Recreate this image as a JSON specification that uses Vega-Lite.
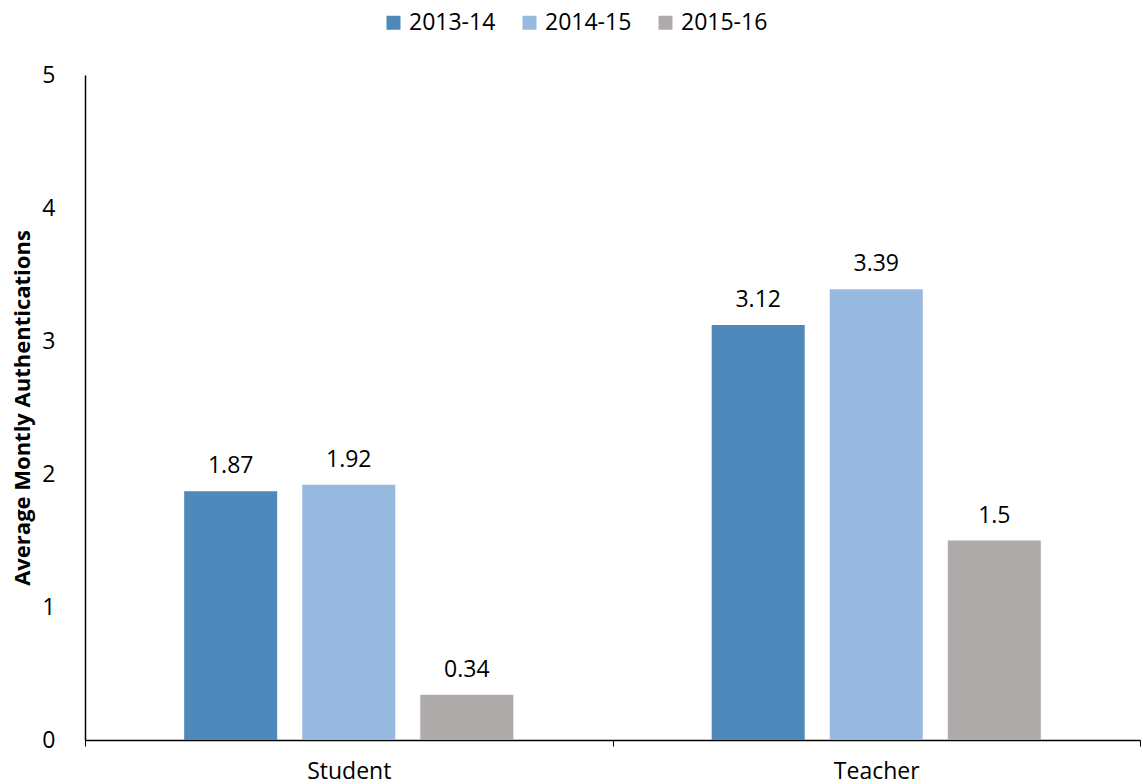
{
  "$schema": "https://vega.github.io/schema/vega-lite/v6.json",
  "autosize": "none",
  "width": 1055,
  "height": 665,
  "padding": {"left": 85, "top": 75, "right": 3, "bottom": 44},
  "background": "white",
  "config": {
    "view": {"stroke": null},
    "font": "Open Sans",
    "axis": {"labelFont": "Open Sans", "titleFont": "Open Sans", "labelColor": "#000000", "titleColor": "#000000", "grid": false}
  },
  "data": {
    "values": [
      {"role": "Student", "year": "2013-14", "value": 1.87},
      {"role": "Student", "year": "2014-15", "value": 1.92},
      {"role": "Student", "year": "2015-16", "value": 0.34},
      {"role": "Teacher", "year": "2013-14", "value": 3.12},
      {"role": "Teacher", "year": "2014-15", "value": 3.39},
      {"role": "Teacher", "year": "2015-16", "value": 1.5}
    ]
  },
  "encoding": {
    "x": {
      "field": "role", "type": "nominal",
      "scale": {"paddingInner": 0, "paddingOuter": 0},
      "axis": {
        "title": null, "labelAngle": 0, "labelFontSize": 23, "labelPadding": 14,
        "domainColor": "#000000", "domainWidth": 1.5, "tickColor": "#000000",
        "tickBand": "extent", "tickSize": 6, "tickWidth": 1
      }
    },
    "xOffset": {
      "field": "year", "type": "nominal",
      "scale": {"paddingInner": 0.212, "paddingOuter": 0.84}
    },
    "y": {
      "field": "value", "type": "quantitative",
      "scale": {"domain": [0, 5], "nice": false},
      "axis": {
        "title": "Average Montly Authentications", "titleFontSize": 22, "titleFontWeight": "bold",
        "titlePadding": 7, "labelFontSize": 23, "labelPadding": 30, "ticks": false,
        "values": [0, 1, 2, 3, 4, 5], "labelOverlap": false,
        "domainColor": "#000000", "domainWidth": 1.5
      }
    }
  },
  "layer": [
    {
      "mark": {"type": "bar"},
      "encoding": {
        "color": {
          "field": "year", "type": "nominal",
          "scale": {"domain": ["2013-14", "2014-15", "2015-16"], "range": ["#4F88BB", "#98B9DF", "#AFABAA"]},
          "legend": {
            "title": null, "orient": "none", "legendX": 297, "legendY": -64,
            "direction": "horizontal", "symbolType": "square", "symbolSize": 196,
            "symbolStrokeWidth": 0, "labelFontSize": 23, "labelFont": "Open Sans", "labelColor": "#000000",
            "columnPadding": 22, "labelOffset": 4
          }
        }
      }
    },
    {
      "mark": {"type": "text", "baseline": "alphabetic", "dy": -18, "fontSize": 23, "color": "#000000"},
      "encoding": {"text": {"field": "value", "type": "quantitative"}}
    }
  ]
}
